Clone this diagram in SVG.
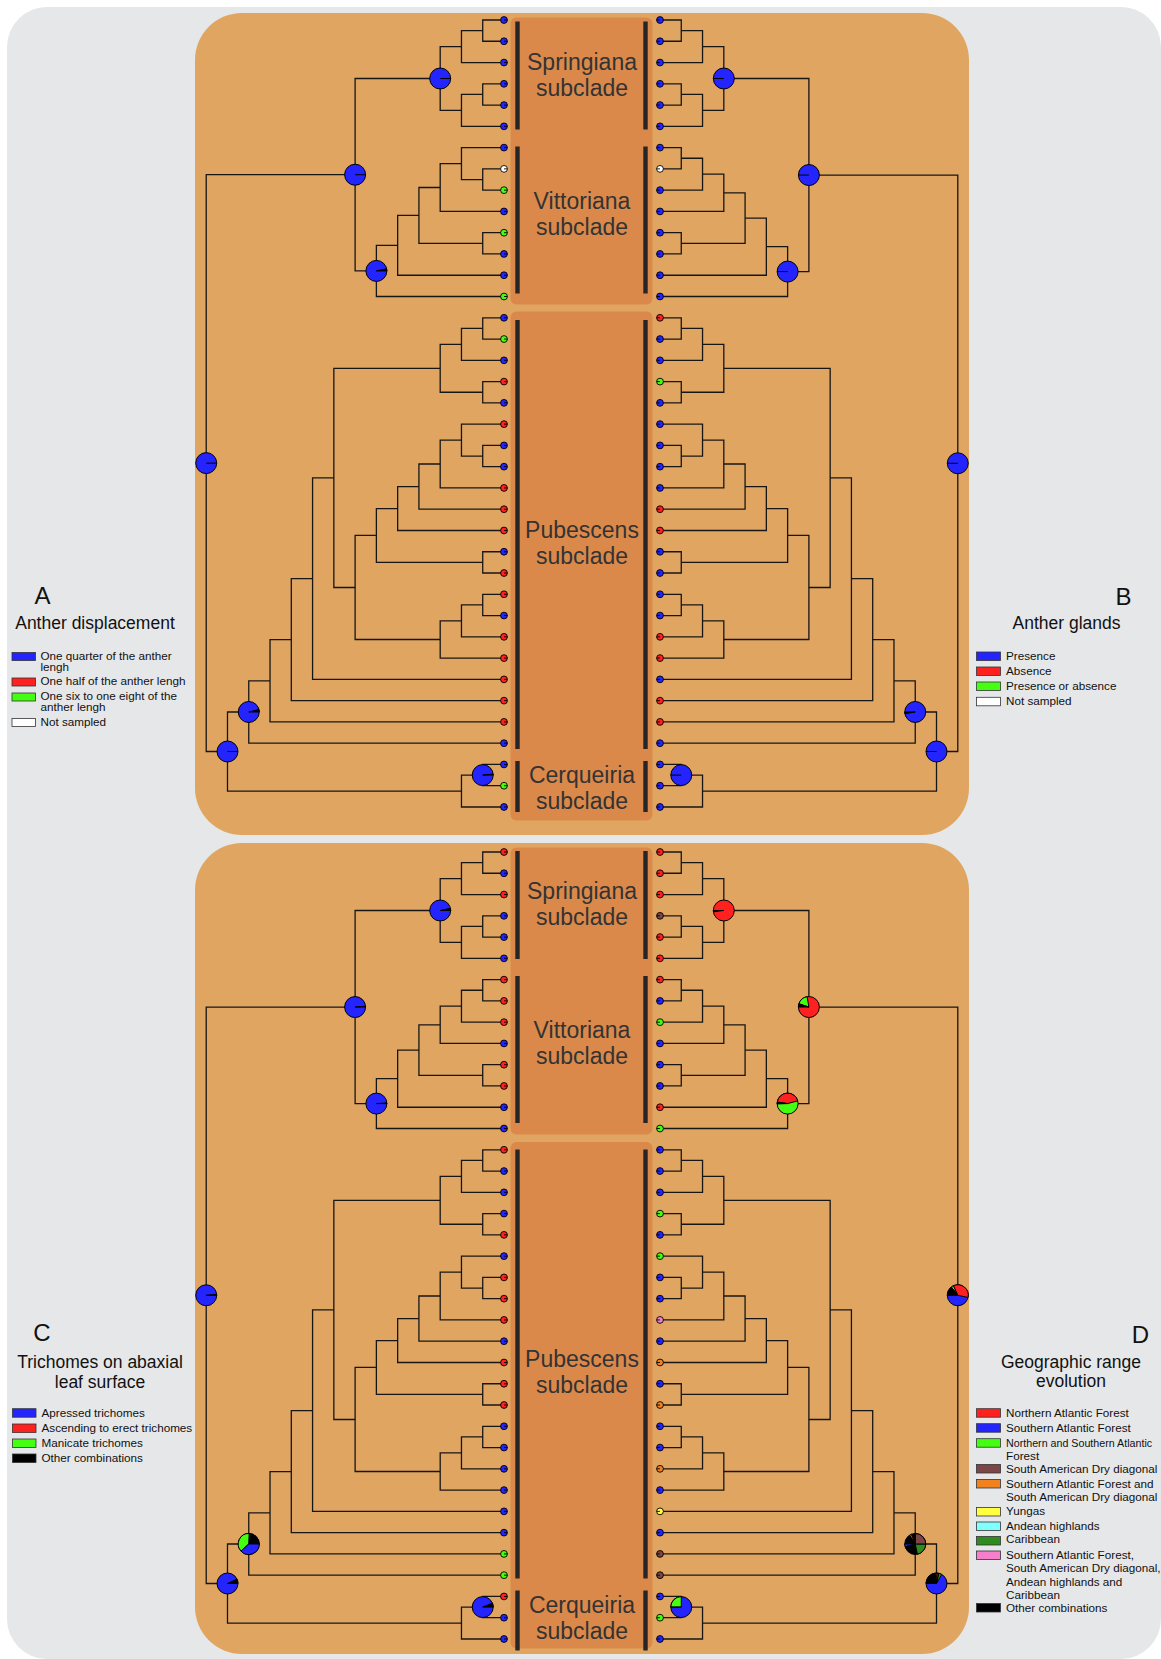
<svg xmlns="http://www.w3.org/2000/svg" xmlns:xlink="http://www.w3.org/1999/xlink" width="1161" height="1659" viewBox="0 0 1161 1659">
<style>
.panel{fill:#e0a661}
.box{fill:#db894b}
.bar{fill:#262626}
.lbl{font-family:"Liberation Sans",Arial,sans-serif;font-size:23px;fill:#333;text-anchor:middle}
.e path{fill:none;stroke:#161616;stroke-width:1.3}
.tip{stroke:#000;stroke-width:0.9}
.pie circle,.pie path{stroke:#000;stroke-width:1}
.b{fill:#2424ff}.r{fill:#ff2020}.g{fill:#44ff12}.w{fill:#fff}.k{fill:#000}.br{fill:#7d4646}.o{fill:#f28220}.y{fill:#ffff40}.c{fill:#80ffff}.dg{fill:#2f8a1f}.p{fill:#f57fcb}
.lt{font-family:"Liberation Sans",Arial,sans-serif;font-size:11.7px;fill:#111}
.lh{font-family:"Liberation Sans",Arial,sans-serif;font-size:17.5px;fill:#111;text-anchor:middle}
.ll{font-family:"Liberation Sans",Arial,sans-serif;font-size:24px;fill:#111;text-anchor:middle}
.sw{stroke:#333;stroke-width:0.8}
</style>
<defs>
<path id="tl" d="M0 0H3.4A3.4 3.4 0 1 1 -3.4 0A3.4 3.4 0 1 1 3.4 0"/>
<path id="tr" d="M0 0H-3.4A3.4 3.4 0 1 1 3.4 0A3.4 3.4 0 1 1 -3.4 0"/>
</defs>
<rect x="0" y="0" width="1161" height="1659" fill="#fff"/>
<rect x="7" y="7" width="1154" height="1652" rx="40" fill="#e6e7e9"/>
<rect class="panel" x="195" y="13" width="774" height="822" rx="47"/>
<rect class="panel" x="195" y="843" width="774" height="811" rx="47"/>

<!-- Legends -->
<g id="legend-A">
<text class="ll" x="42.5" y="604">A</text>
<text class="lh" x="95" y="629">Anther displacement</text>
<rect class="sw b" x="12" y="652.5" width="23.5" height="8"/>
<rect class="sw r" x="12" y="678" width="23.5" height="8"/>
<rect class="sw g" x="12" y="693" width="23.5" height="8"/>
<rect class="sw w" x="12" y="718.5" width="23.5" height="8"/>
<text class="lt" x="40.5" y="660">One quarter of the anther</text>
<text class="lt" x="40.5" y="670.7">lengh</text>
<text class="lt" x="40.5" y="685.3">One half of the anther lengh</text>
<text class="lt" x="40.5" y="700.3">One six to one eight of the</text>
<text class="lt" x="40.5" y="711">anther lengh</text>
<text class="lt" x="40.5" y="725.5">Not sampled</text>
</g>
<g id="legend-B">
<text class="ll" x="1123.5" y="605">B</text>
<text class="lh" x="1066.5" y="629.3">Anther glands</text>
<rect class="sw b" x="976.5" y="652" width="24" height="8.5"/>
<rect class="sw r" x="976.5" y="667" width="24" height="8.5"/>
<rect class="sw g" x="976.5" y="682" width="24" height="8.5"/>
<rect class="sw w" x="976.5" y="697.3" width="24" height="8.5"/>
<text class="lt" x="1006" y="660">Presence</text>
<text class="lt" x="1006" y="674.5">Absence</text>
<text class="lt" x="1006" y="689.5">Presence or absence</text>
<text class="lt" x="1006" y="705">Not sampled</text>
</g>
<g id="legend-C">
<text class="ll" x="42" y="1341">C</text>
<text class="lh" x="100" y="1368.3">Trichomes on abaxial</text>
<text class="lh" x="100" y="1387.7">leaf surface</text>
<rect class="sw b" x="12.5" y="1408.7" width="23.5" height="8.5"/>
<rect class="sw r" x="12.5" y="1424" width="23.5" height="8.5"/>
<rect class="sw g" x="12.5" y="1439" width="23.5" height="8.5"/>
<rect class="sw k" x="12.5" y="1454" width="23.5" height="8.5"/>
<text class="lt" x="41.5" y="1416.7">Apressed trichomes</text>
<text class="lt" x="41.5" y="1431.7">Ascending to erect trichomes</text>
<text class="lt" x="41.5" y="1446.7">Manicate trichomes</text>
<text class="lt" x="41.5" y="1461.7">Other combinations</text>
</g>
<g id="legend-D">
<text class="ll" x="1140.5" y="1342.7">D</text>
<text class="lh" x="1071" y="1368.3">Geographic range</text>
<text class="lh" x="1071" y="1387.3">evolution</text>
<rect class="sw r" x="976.5" y="1408.7" width="24" height="8.5"/>
<rect class="sw b" x="976.5" y="1423.7" width="24" height="8.5"/>
<rect class="sw g" x="976.5" y="1438.7" width="24" height="8.5"/>
<rect class="sw br" x="976.5" y="1464.5" width="24" height="8.5"/>
<rect class="sw o" x="976.5" y="1479.5" width="24" height="8.5"/>
<rect class="sw y" x="976.5" y="1507.5" width="24" height="8.5"/>
<rect class="sw c" x="976.5" y="1522" width="24" height="8.5"/>
<rect class="sw dg" x="976.5" y="1536.5" width="24" height="8.5"/>
<rect class="sw p" x="976.5" y="1551" width="24" height="8.5"/>
<rect class="sw k" x="976.5" y="1603.5" width="24" height="8.5"/>
<text class="lt" x="1006" y="1416.7">Northern Atlantic Forest</text>
<text class="lt" x="1006" y="1431.7">Southern Atlantic Forest</text>
<text class="lt" x="1006" y="1446.7" style="font-size:10.7px">Northern and Southern Atlantic</text>
<text class="lt" x="1006" y="1460">Forest</text>
<text class="lt" x="1006" y="1472.7">South American Dry diagonal</text>
<text class="lt" x="1006" y="1487.7">Southern Atlantic Forest and</text>
<text class="lt" x="1006" y="1500.7">South American Dry diagonal</text>
<text class="lt" x="1006" y="1515">Yungas</text>
<text class="lt" x="1006" y="1530">Andean highlands</text>
<text class="lt" x="1006" y="1543.3">Caribbean</text>
<text class="lt" x="1006" y="1559.3">Southern Atlantic Forest,</text>
<text class="lt" x="1006" y="1572.3">South American Dry diagonal,</text>
<text class="lt" x="1006" y="1586">Andean highlands and</text>
<text class="lt" x="1006" y="1599.3">Caribbean</text>
<text class="lt" x="1006" y="1611.7">Other combinations</text>
</g>

<!-- ================= TOP PANEL ================= -->
<g id="top-panel">
<rect class="box" x="510.5" y="17.5" width="142" height="287" rx="6"/>
<rect class="box" x="510.5" y="311.5" width="142" height="509" rx="6"/>
<rect class="bar" x="515.3" y="21.5" width="4.4" height="108"/>
<rect class="bar" x="643.3" y="21.5" width="4.4" height="108"/>
<rect class="bar" x="515.3" y="146.5" width="4.4" height="147"/>
<rect class="bar" x="643.3" y="146.5" width="4.4" height="147"/>
<rect class="bar" x="515.3" y="320" width="4.4" height="429"/>
<rect class="bar" x="643.3" y="320" width="4.4" height="429"/>
<rect class="bar" x="515.3" y="761" width="4.4" height="51"/>
<rect class="bar" x="643.3" y="761" width="4.4" height="51"/>
<text class="lbl" x="582" y="70">Springiana</text>
<text class="lbl" x="582" y="96">subclade</text>
<text class="lbl" x="582" y="208.5">Vittoriana</text>
<text class="lbl" x="582" y="235">subclade</text>
<text class="lbl" x="582" y="537.5">Pubescens</text>
<text class="lbl" x="582" y="563.5">subclade</text>
<text class="lbl" x="582" y="783">Cerqueiria</text>
<text class="lbl" x="582" y="809">subclade</text>

<g id="edges-A" class="e">
<path d="M504 20H482.73V41.27H504"/><path d="M482.73 30.64H461.46V62.54H504"/><path d="M504 83.81H482.73V105.08H504"/><path d="M482.73 94.45H461.46V126.35H504"/><path d="M461.46 46.59H440.19V110.4H461.46"/>
<path d="M504 168.89H482.73V190.16H504"/><path d="M504 147.62H461.46V179.53H482.73"/><path d="M461.46 163.57H440.19V211.43H504"/><path d="M504 232.7H482.73V253.97H504"/><path d="M440.19 187.5H418.92V243.34H482.73"/><path d="M418.92 215.42H397.65V275.24H504"/><path d="M397.65 245.33H376.38V296.51H504"/><path d="M440.19 78.49H355.11V270.92H376.38"/>
<path d="M504 317.78H482.73V339.05H504"/><path d="M482.73 328.42H461.46V360.32H504"/><path d="M504 381.59H482.73V402.86H504"/><path d="M461.46 344.37H440.19V392.23H482.73"/>
<path d="M504 445.4H482.73V466.67H504"/><path d="M504 424.13H461.46V456.04H482.73"/><path d="M461.46 440.08H440.19V487.94H504"/><path d="M440.19 464.01H418.92V509.21H504"/><path d="M418.92 486.61H397.65V530.48H504"/><path d="M504 551.75H482.73V573.02H504"/><path d="M397.65 508.55H376.38V562.39H482.73"/>
<path d="M504 594.29H482.73V615.56H504"/><path d="M482.73 604.93H461.46V636.83H504"/><path d="M461.46 620.88H440.19V658.1H504"/><path d="M376.38 535.47H355.11V639.49H440.19"/><path d="M440.19 368.3H333.84V587.48H355.11"/>
<path d="M333.84 477.89H312.57V679.37H504"/><path d="M312.57 578.63H291.3V700.64H504"/><path d="M291.3 639.64H270.03V721.91H504"/><path d="M270.03 680.78H248.76V743.18H504"/>
<path d="M504 764.45H482.73V785.72H504"/><path d="M482.73 775.09H461.46V806.99H504"/><path d="M248.76 711.98H227.49V791.04H461.46"/><path d="M355.11 174.71H206.22V751.51H227.49"/>
</g>
<g id="edges-B" class="e" transform="matrix(-1 0 0 1 1164 0)">
<path d="M504 20H482.73V41.27H504"/><path d="M482.73 30.64H461.46V62.54H504"/><path d="M504 83.81H482.73V105.08H504"/><path d="M482.73 94.45H461.46V126.35H504"/><path d="M461.46 46.59H440.19V110.4H461.46"/>
<path d="M504 147.62H482.73V168.89H504"/><path d="M482.73 158.26H461.46V190.16H504"/><path d="M461.46 174.21H440.19V211.43H504"/><path d="M504 232.7H482.73V253.97H504"/><path d="M440.19 192.82H418.92V243.34H482.73"/><path d="M418.92 218.08H397.65V275.24H504"/><path d="M397.65 246.66H376.38V296.51H504"/><path d="M440.19 78.49H355.11V271.59H376.38"/>
<path d="M504 317.78H482.73V339.05H504"/><path d="M482.73 328.42H461.46V360.32H504"/><path d="M504 381.59H482.73V402.86H504"/><path d="M461.46 344.37H440.19V392.23H482.73"/>
<path d="M504 445.4H482.73V466.67H504"/><path d="M504 424.13H461.46V456.04H482.73"/><path d="M461.46 440.08H440.19V487.94H504"/><path d="M440.19 464.01H418.92V509.21H504"/><path d="M418.92 486.61H397.65V530.48H504"/><path d="M504 551.75H482.73V573.02H504"/><path d="M397.65 508.55H376.38V562.39H482.73"/>
<path d="M504 594.29H482.73V615.56H504"/><path d="M482.73 604.93H461.46V636.83H504"/><path d="M461.46 620.88H440.19V658.1H504"/><path d="M376.38 535.47H355.11V639.49H440.19"/><path d="M440.19 368.3H333.84V587.48H355.11"/>
<path d="M333.84 477.89H312.57V679.37H504"/><path d="M312.57 578.63H291.3V700.64H504"/><path d="M291.3 639.64H270.03V721.91H504"/><path d="M270.03 680.78H248.76V743.18H504"/>
<path d="M504 764.45H482.73V785.72H504"/><path d="M482.73 775.09H461.46V806.99H504"/><path d="M248.76 711.98H227.49V791.04H461.46"/><path d="M355.11 175.04H206.22V751.51H227.49"/>
</g>

<g id="tips-A">
<use id="A-t0" href="#tl" x="504" y="20" class="tip b"/><use id="A-t1" href="#tl" x="504" y="41.27" class="tip b"/><use id="A-t2" href="#tl" x="504" y="62.54" class="tip b"/><use id="A-t3" href="#tl" x="504" y="83.81" class="tip b"/><use id="A-t4" href="#tl" x="504" y="105.08" class="tip b"/><use id="A-t5" href="#tl" x="504" y="126.35" class="tip b"/>
<use id="A-t6" href="#tl" x="504" y="147.62" class="tip b"/><use id="A-t7" href="#tl" x="504" y="168.89" class="tip w"/><use id="A-t8" href="#tl" x="504" y="190.16" class="tip g"/><use id="A-t9" href="#tl" x="504" y="211.43" class="tip b"/><use id="A-t10" href="#tl" x="504" y="232.7" class="tip g"/><use id="A-t11" href="#tl" x="504" y="253.97" class="tip b"/><use id="A-t12" href="#tl" x="504" y="275.24" class="tip b"/><use id="A-t13" href="#tl" x="504" y="296.51" class="tip g"/>
<use id="A-t14" href="#tl" x="504" y="317.78" class="tip b"/><use id="A-t15" href="#tl" x="504" y="339.05" class="tip g"/><use id="A-t16" href="#tl" x="504" y="360.32" class="tip b"/><use id="A-t17" href="#tl" x="504" y="381.59" class="tip r"/><use id="A-t18" href="#tl" x="504" y="402.86" class="tip b"/><use id="A-t19" href="#tl" x="504" y="424.13" class="tip r"/><use id="A-t20" href="#tl" x="504" y="445.4" class="tip b"/><use id="A-t21" href="#tl" x="504" y="466.67" class="tip b"/><use id="A-t22" href="#tl" x="504" y="487.94" class="tip r"/><use id="A-t23" href="#tl" x="504" y="509.21" class="tip r"/><use id="A-t24" href="#tl" x="504" y="530.48" class="tip r"/><use id="A-t25" href="#tl" x="504" y="551.75" class="tip b"/><use id="A-t26" href="#tl" x="504" y="573.02" class="tip r"/><use id="A-t27" href="#tl" x="504" y="594.29" class="tip r"/><use id="A-t28" href="#tl" x="504" y="615.56" class="tip b"/><use id="A-t29" href="#tl" x="504" y="636.83" class="tip r"/><use id="A-t30" href="#tl" x="504" y="658.1" class="tip r"/><use id="A-t31" href="#tl" x="504" y="679.37" class="tip r"/><use id="A-t32" href="#tl" x="504" y="700.64" class="tip r"/><use id="A-t33" href="#tl" x="504" y="721.91" class="tip r"/><use id="A-t34" href="#tl" x="504" y="743.18" class="tip b"/>
<use id="A-t35" href="#tl" x="504" y="764.45" class="tip b"/><use id="A-t36" href="#tl" x="504" y="785.72" class="tip g"/><use id="A-t37" href="#tl" x="504" y="806.99" class="tip b"/>
</g>
<g id="tips-B">
<use id="B-t0" href="#tr" x="660" y="20" class="tip b"/><use id="B-t1" href="#tr" x="660" y="41.27" class="tip b"/><use id="B-t2" href="#tr" x="660" y="62.54" class="tip b"/><use id="B-t3" href="#tr" x="660" y="83.81" class="tip b"/><use id="B-t4" href="#tr" x="660" y="105.08" class="tip b"/><use id="B-t5" href="#tr" x="660" y="126.35" class="tip b"/>
<use id="B-t6" href="#tr" x="660" y="147.62" class="tip b"/><use id="B-t7" href="#tr" x="660" y="168.89" class="tip w"/><use id="B-t8" href="#tr" x="660" y="190.16" class="tip b"/><use id="B-t9" href="#tr" x="660" y="211.43" class="tip b"/><use id="B-t10" href="#tr" x="660" y="232.7" class="tip b"/><use id="B-t11" href="#tr" x="660" y="253.97" class="tip b"/><use id="B-t12" href="#tr" x="660" y="275.24" class="tip b"/><use id="B-t13" href="#tr" x="660" y="296.51" class="tip b"/>
<use id="B-t14" href="#tr" x="660" y="317.78" class="tip r"/><use id="B-t15" href="#tr" x="660" y="339.05" class="tip b"/><use id="B-t16" href="#tr" x="660" y="360.32" class="tip b"/><use id="B-t17" href="#tr" x="660" y="381.59" class="tip g"/><use id="B-t18" href="#tr" x="660" y="402.86" class="tip b"/><use id="B-t19" href="#tr" x="660" y="424.13" class="tip b"/><use id="B-t20" href="#tr" x="660" y="445.4" class="tip b"/><use id="B-t21" href="#tr" x="660" y="466.67" class="tip b"/><use id="B-t22" href="#tr" x="660" y="487.94" class="tip b"/><use id="B-t23" href="#tr" x="660" y="509.21" class="tip r"/><use id="B-t24" href="#tr" x="660" y="530.48" class="tip r"/><use id="B-t25" href="#tr" x="660" y="551.75" class="tip b"/><use id="B-t26" href="#tr" x="660" y="573.02" class="tip b"/><use id="B-t27" href="#tr" x="660" y="594.29" class="tip b"/><use id="B-t28" href="#tr" x="660" y="615.56" class="tip b"/><use id="B-t29" href="#tr" x="660" y="636.83" class="tip r"/><use id="B-t30" href="#tr" x="660" y="658.1" class="tip r"/><use id="B-t31" href="#tr" x="660" y="679.37" class="tip b"/><use id="B-t32" href="#tr" x="660" y="700.64" class="tip r"/><use id="B-t33" href="#tr" x="660" y="721.91" class="tip r"/><use id="B-t34" href="#tr" x="660" y="743.18" class="tip b"/>
<use id="B-t35" href="#tr" x="660" y="764.45" class="tip b"/><use id="B-t36" href="#tr" x="660" y="785.72" class="tip b"/><use id="B-t37" href="#tr" x="660" y="806.99" class="tip b"/>
</g>

<g id="A-n-spring" class="pie" transform="translate(440.19 78.49)"><circle r="10.5" class="b"/><path d="M0 0H10.5"/></g>
<g id="A-n-sv" class="pie" transform="translate(355.11 174.71)"><circle r="10.5" class="b"/><path d="M0 0H10.5"/></g>
<g id="A-n-vitt" class="pie" transform="translate(376.38 270.92)"><circle r="10.5" class="b"/><path class="k" d="M0 0H10.5A10.5 10.5 0 0 0 10.27 -2.18Z"/></g>
<g id="A-n-root" class="pie" transform="translate(206.22 463.11)"><circle r="10.5" class="b"/><path d="M0 0H10.5"/></g>
<g id="A-n-12" class="pie" transform="translate(248.76 711.98)"><circle r="10.5" class="b"/><path class="k" d="M0 0H10.5A10.5 10.5 0 0 0 10.19 -2.54Z"/></g>
<g id="A-n-13" class="pie" transform="translate(227.49 751.51)"><circle r="10.5" class="b"/><path d="M0 0H10.5"/></g>
<g id="A-n-cerq" class="pie" transform="translate(482.73 775.09)"><circle r="10.5" class="b"/><path class="k" d="M0 0H10.5A10.5 10.5 0 0 0 10.44 -1.1Z"/></g>

<g id="B-n-spring" class="pie" transform="translate(723.81 78.49)"><circle r="10.5" class="b"/><path d="M0 0H-10.5"/></g>
<g id="B-n-sv" class="pie" transform="translate(808.89 175.04)"><circle r="10.5" class="b"/><path d="M0 0H-10.5"/></g>
<g id="B-n-vitt" class="pie" transform="translate(787.62 271.59)"><circle r="10.5" class="b"/><path d="M0 0H-10.5"/></g>
<g id="B-n-root" class="pie" transform="translate(957.78 463.28)"><circle r="10.5" class="b"/><path d="M0 0H-10.5"/></g>
<g id="B-n-12" class="pie" transform="translate(915.24 711.98)"><circle r="10.5" class="b"/><path class="k" d="M0 0H-10.5A10.5 10.5 0 0 0 -10.34 1.82Z"/></g>
<g id="B-n-13" class="pie" transform="translate(936.51 751.51)"><circle r="10.5" class="b"/><path d="M0 0H-10.5"/></g>
<g id="B-n-cerq" class="pie" transform="translate(681.27 775.09)"><circle r="10.5" class="b"/><path d="M0 0H-10.5"/></g>
</g>

<!-- ================= BOTTOM PANEL ================= -->
<g id="bottom-panel" transform="translate(0 832)">
<rect class="box" x="510.5" y="15.5" width="142" height="287" rx="6"/>
<rect class="box" x="510.5" y="310" width="142" height="506.5" rx="6"/>
<rect class="bar" x="515.3" y="19" width="4.4" height="108"/>
<rect class="bar" x="643.3" y="19" width="4.4" height="108"/>
<rect class="bar" x="515.3" y="144" width="4.4" height="147"/>
<rect class="bar" x="643.3" y="144" width="4.4" height="147"/>
<rect class="bar" x="515.3" y="317.5" width="4.4" height="429"/>
<rect class="bar" x="643.3" y="317.5" width="4.4" height="429"/>
<rect class="bar" x="515.3" y="758.5" width="4.4" height="60"/>
<rect class="bar" x="643.3" y="758.5" width="4.4" height="60"/>
<text class="lbl" x="582" y="67">Springiana</text>
<text class="lbl" x="582" y="93">subclade</text>
<text class="lbl" x="582" y="205.5">Vittoriana</text>
<text class="lbl" x="582" y="232">subclade</text>
<text class="lbl" x="582" y="535">Pubescens</text>
<text class="lbl" x="582" y="561">subclade</text>
<text class="lbl" x="582" y="781">Cerqueiria</text>
<text class="lbl" x="582" y="807">subclade</text>

<g id="edges-C" class="e">
<path d="M504 20H482.73V41.27H504"/><path d="M482.73 30.64H461.46V62.54H504"/><path d="M504 83.81H482.73V105.08H504"/><path d="M482.73 94.45H461.46V126.35H504"/><path d="M461.46 46.59H440.19V110.4H461.46"/>
<path d="M504 147.62H482.73V168.89H504"/><path d="M482.73 158.26H461.46V190.16H504"/><path d="M461.46 174.21H440.19V211.43H504"/><path d="M504 232.7H482.73V253.97H504"/><path d="M440.19 192.82H418.92V243.34H482.73"/><path d="M418.92 218.08H397.65V275.24H504"/><path d="M397.65 246.66H376.38V296.51H504"/><path d="M440.19 78.49H355.11V271.59H376.38"/>
<path d="M504 317.78H482.73V339.05H504"/><path d="M482.73 328.42H461.46V360.32H504"/><path d="M504 381.59H482.73V402.86H504"/><path d="M461.46 344.37H440.19V392.23H482.73"/>
<path d="M504 445.4H482.73V466.67H504"/><path d="M504 424.13H461.46V456.04H482.73"/><path d="M461.46 440.08H440.19V487.94H504"/><path d="M440.19 464.01H418.92V509.21H504"/><path d="M418.92 486.61H397.65V530.48H504"/><path d="M504 551.75H482.73V573.02H504"/><path d="M397.65 508.55H376.38V562.39H482.73"/>
<path d="M504 594.29H482.73V615.56H504"/><path d="M482.73 604.93H461.46V636.83H504"/><path d="M461.46 620.88H440.19V658.1H504"/><path d="M376.38 535.47H355.11V639.49H440.19"/><path d="M440.19 368.3H333.84V587.48H355.11"/>
<path d="M333.84 477.89H312.57V679.37H504"/><path d="M312.57 578.63H291.3V700.64H504"/><path d="M291.3 639.64H270.03V721.91H504"/><path d="M270.03 680.78H248.76V743.18H504"/>
<path d="M504 764.45H482.73V785.72H504"/><path d="M482.73 775.09H461.46V806.99H504"/><path d="M248.76 711.98H227.49V791.04H461.46"/><path d="M355.11 175.04H206.22V751.51H227.49"/>
</g>
<g id="edges-D" class="e" transform="matrix(-1 0 0 1 1164 0)">
<path d="M504 20H482.73V41.27H504"/><path d="M482.73 30.64H461.46V62.54H504"/><path d="M504 83.81H482.73V105.08H504"/><path d="M482.73 94.45H461.46V126.35H504"/><path d="M461.46 46.59H440.19V110.4H461.46"/>
<path d="M504 147.62H482.73V168.89H504"/><path d="M482.73 158.26H461.46V190.16H504"/><path d="M461.46 174.21H440.19V211.43H504"/><path d="M504 232.7H482.73V253.97H504"/><path d="M440.19 192.82H418.92V243.34H482.73"/><path d="M418.92 218.08H397.65V275.24H504"/><path d="M397.65 246.66H376.38V296.51H504"/><path d="M440.19 78.49H355.11V271.59H376.38"/>
<path d="M504 317.78H482.73V339.05H504"/><path d="M482.73 328.42H461.46V360.32H504"/><path d="M504 381.59H482.73V402.86H504"/><path d="M461.46 344.37H440.19V392.23H482.73"/>
<path d="M504 445.4H482.73V466.67H504"/><path d="M504 424.13H461.46V456.04H482.73"/><path d="M461.46 440.08H440.19V487.94H504"/><path d="M440.19 464.01H418.92V509.21H504"/><path d="M418.92 486.61H397.65V530.48H504"/><path d="M504 551.75H482.73V573.02H504"/><path d="M397.65 508.55H376.38V562.39H482.73"/>
<path d="M504 594.29H482.73V615.56H504"/><path d="M482.73 604.93H461.46V636.83H504"/><path d="M461.46 620.88H440.19V658.1H504"/><path d="M376.38 535.47H355.11V639.49H440.19"/><path d="M440.19 368.3H333.84V587.48H355.11"/>
<path d="M333.84 477.89H312.57V679.37H504"/><path d="M312.57 578.63H291.3V700.64H504"/><path d="M291.3 639.64H270.03V721.91H504"/><path d="M270.03 680.78H248.76V743.18H504"/>
<path d="M504 764.45H482.73V785.72H504"/><path d="M482.73 775.09H461.46V806.99H504"/><path d="M248.76 711.98H227.49V791.04H461.46"/><path d="M355.11 175.04H206.22V751.51H227.49"/>
</g>

<g id="tips-C">
<use id="C-t0" href="#tl" x="504" y="20" class="tip r"/><use id="C-t1" href="#tl" x="504" y="41.27" class="tip b"/><use id="C-t2" href="#tl" x="504" y="62.54" class="tip r"/><use id="C-t3" href="#tl" x="504" y="83.81" class="tip b"/><use id="C-t4" href="#tl" x="504" y="105.08" class="tip b"/><use id="C-t5" href="#tl" x="504" y="126.35" class="tip b"/>
<use id="C-t6" href="#tl" x="504" y="147.62" class="tip r"/><use id="C-t7" href="#tl" x="504" y="168.89" class="tip r"/><use id="C-t8" href="#tl" x="504" y="190.16" class="tip r"/><use id="C-t9" href="#tl" x="504" y="211.43" class="tip b"/><use id="C-t10" href="#tl" x="504" y="232.7" class="tip r"/><use id="C-t11" href="#tl" x="504" y="253.97" class="tip r"/><use id="C-t12" href="#tl" x="504" y="275.24" class="tip b"/><use id="C-t13" href="#tl" x="504" y="296.51" class="tip b"/>
<use id="C-t14" href="#tl" x="504" y="317.78" class="tip r"/><use id="C-t15" href="#tl" x="504" y="339.05" class="tip b"/><use id="C-t16" href="#tl" x="504" y="360.32" class="tip b"/><use id="C-t17" href="#tl" x="504" y="381.59" class="tip b"/><use id="C-t18" href="#tl" x="504" y="402.86" class="tip r"/><use id="C-t19" href="#tl" x="504" y="424.13" class="tip b"/><use id="C-t20" href="#tl" x="504" y="445.4" class="tip r"/><use id="C-t21" href="#tl" x="504" y="466.67" class="tip r"/><use id="C-t22" href="#tl" x="504" y="487.94" class="tip r"/><use id="C-t23" href="#tl" x="504" y="509.21" class="tip b"/><use id="C-t24" href="#tl" x="504" y="530.48" class="tip r"/><use id="C-t25" href="#tl" x="504" y="551.75" class="tip r"/><use id="C-t26" href="#tl" x="504" y="573.02" class="tip r"/><use id="C-t27" href="#tl" x="504" y="594.29" class="tip b"/><use id="C-t28" href="#tl" x="504" y="615.56" class="tip b"/><use id="C-t29" href="#tl" x="504" y="636.83" class="tip b"/><use id="C-t30" href="#tl" x="504" y="658.1" class="tip b"/><use id="C-t31" href="#tl" x="504" y="679.37" class="tip b"/><use id="C-t32" href="#tl" x="504" y="700.64" class="tip b"/><use id="C-t33" href="#tl" x="504" y="721.91" class="tip g"/><use id="C-t34" href="#tl" x="504" y="743.18" class="tip g"/>
<use id="C-t35" href="#tl" x="504" y="764.45" class="tip r"/><use id="C-t36" href="#tl" x="504" y="785.72" class="tip b"/><use id="C-t37" href="#tl" x="504" y="806.99" class="tip b"/>
</g>
<g id="tips-D">
<use id="D-t0" href="#tr" x="660" y="20" class="tip r"/><use id="D-t1" href="#tr" x="660" y="41.27" class="tip r"/><use id="D-t2" href="#tr" x="660" y="62.54" class="tip r"/><use id="D-t3" href="#tr" x="660" y="83.81" class="tip br"/><use id="D-t4" href="#tr" x="660" y="105.08" class="tip r"/><use id="D-t5" href="#tr" x="660" y="126.35" class="tip r"/>
<use id="D-t6" href="#tr" x="660" y="147.62" class="tip r"/><use id="D-t7" href="#tr" x="660" y="168.89" class="tip b"/><use id="D-t8" href="#tr" x="660" y="190.16" class="tip g"/><use id="D-t9" href="#tr" x="660" y="211.43" class="tip b"/><use id="D-t10" href="#tr" x="660" y="232.7" class="tip b"/><use id="D-t11" href="#tr" x="660" y="253.97" class="tip b"/><use id="D-t12" href="#tr" x="660" y="275.24" class="tip r"/><use id="D-t13" href="#tr" x="660" y="296.51" class="tip g"/>
<use id="D-t14" href="#tr" x="660" y="317.78" class="tip b"/><use id="D-t15" href="#tr" x="660" y="339.05" class="tip b"/><use id="D-t16" href="#tr" x="660" y="360.32" class="tip b"/><use id="D-t17" href="#tr" x="660" y="381.59" class="tip g"/><use id="D-t18" href="#tr" x="660" y="402.86" class="tip b"/><use id="D-t19" href="#tr" x="660" y="424.13" class="tip g"/><use id="D-t20" href="#tr" x="660" y="445.4" class="tip b"/><use id="D-t21" href="#tr" x="660" y="466.67" class="tip b"/><use id="D-t22" href="#tr" x="660" y="487.94" class="tip p"/><use id="D-t23" href="#tr" x="660" y="509.21" class="tip b"/><use id="D-t24" href="#tr" x="660" y="530.48" class="tip o"/><use id="D-t25" href="#tr" x="660" y="551.75" class="tip b"/><use id="D-t26" href="#tr" x="660" y="573.02" class="tip o"/><use id="D-t27" href="#tr" x="660" y="594.29" class="tip b"/><use id="D-t28" href="#tr" x="660" y="615.56" class="tip b"/><use id="D-t29" href="#tr" x="660" y="636.83" class="tip o"/><use id="D-t30" href="#tr" x="660" y="658.1" class="tip b"/><use id="D-t31" href="#tr" x="660" y="679.37" class="tip y"/><use id="D-t32" href="#tr" x="660" y="700.64" class="tip b"/><use id="D-t33" href="#tr" x="660" y="721.91" class="tip br"/><use id="D-t34" href="#tr" x="660" y="743.18" class="tip br"/>
<use id="D-t35" href="#tr" x="660" y="764.45" class="tip b"/><use id="D-t36" href="#tr" x="660" y="785.72" class="tip g"/><use id="D-t37" href="#tr" x="660" y="806.99" class="tip b"/>
</g>

<g id="C-n-spring" class="pie" transform="translate(440.19 78.49)"><circle r="10.5" class="b"/><path class="k" d="M0 0H10.5A10.5 10.5 0 0 0 10.27 -2.18Z"/></g>
<g id="C-n-sv" class="pie" transform="translate(355.11 175.04)"><circle r="10.5" class="b"/><path class="k" d="M0 0H10.5A10.5 10.5 0 0 0 10.47 -0.73Z"/></g>
<g id="C-n-vitt" class="pie" transform="translate(376.38 271.59)"><circle r="10.5" class="b"/><path class="k" d="M0 0H10.5A10.5 10.5 0 0 0 10.47 -0.73Z"/></g>
<g id="C-n-root" class="pie" transform="translate(206.22 463.28)"><circle r="10.5" class="b"/><path class="k" d="M0 0H10.5A10.5 10.5 0 0 0 10.46 -0.92Z"/></g>
<g id="C-n-12" class="pie" transform="translate(248.76 711.98)"><circle r="10.5" class="b"/><path class="k" d="M0 0H10.5A10.5 10.5 0 0 0 0.37 -10.49Z"/><path class="g" d="M0 0L0.37 -10.49A10.5 10.5 0 0 0 -7.8 7.03Z"/><path class="b" d="M0 0L-7.8 7.03A10.5 10.5 0 0 0 10.5 0Z"/></g>
<g id="C-n-13" class="pie" transform="translate(227.49 751.51)"><circle r="10.5" class="b"/><path class="k" d="M0 0H10.5A10.5 10.5 0 0 0 9.52 -4.44Z"/></g>
<g id="C-n-cerq" class="pie" transform="translate(482.73 775.09)"><circle r="10.5" class="b"/><path class="k" d="M0 0H10.5A10.5 10.5 0 0 0 9.74 -3.93Z"/></g>

<g id="D-n-spring" class="pie" transform="translate(723.81 78.49)"><circle r="10.5" class="r"/><path class="k" d="M0 0H-10.5A10.5 10.5 0 0 0 -10.42 1.28Z"/></g>
<g id="D-n-sv" class="pie" transform="translate(808.89 175.04)"><circle r="10.5" class="r"/><path class="g" d="M0 0L-1.82 -10.34A10.5 10.5 0 0 0 -9.99 -3.24Z"/><path class="k" d="M0 0L-9.99 -3.24A10.5 10.5 0 0 0 -10.5 0Z"/></g>
<g id="D-n-vitt" class="pie" transform="translate(787.62 271.59)"><circle r="10.5" class="g"/><path class="r" d="M0 0L10.14 -2.72A10.5 10.5 0 0 0 -10.4 -1.46Z"/><path class="k" d="M0 0L-10.4 -1.46A10.5 10.5 0 0 0 -10.49 0.37Z"/></g>
<g id="D-n-root" class="pie" transform="translate(957.78 463.28)"><circle r="10.5" class="b"/><path class="r" d="M0 0L10.27 2.18A10.5 10.5 0 0 0 -4.44 -9.52Z"/><path class="g" d="M0 0L-4.44 -9.52A10.5 10.5 0 0 0 -6.46 -8.27Z"/><path class="k" d="M0 0L-6.46 -8.27A10.5 10.5 0 0 0 -10.5 0Z"/></g>
<g id="D-n-12" class="pie" transform="translate(915.24 711.98)"><circle r="10.5" class="k"/><path class="b" d="M0 0H-10.5A10.5 10.5 0 0 0 -10.14 2.72Z"/><path class="dg" d="M0 0L2.18 10.27A10.5 10.5 0 0 0 10.5 0Z"/><path class="br" d="M0 0H10.5A10.5 10.5 0 0 0 0.37 -10.49Z"/><path class="o" d="M0 0L-3.93 -9.74A10.5 10.5 0 0 0 -5.56 -8.9Z"/></g>
<g id="D-n-13" class="pie" transform="translate(936.51 751.51)"><circle r="10.5" class="b"/><path class="dg" d="M0 0L5.25 -9.09A10.5 10.5 0 0 0 2.18 -10.27Z"/><path class="br" d="M0 0L2.18 -10.27A10.5 10.5 0 0 0 0.37 -10.49Z"/><path class="r" d="M0 0L0.37 -10.49A10.5 10.5 0 0 0 -1.46 -10.4Z"/><path class="k" d="M0 0L-1.46 -10.4A10.5 10.5 0 0 0 -10.5 0Z"/></g>
<g id="D-n-cerq" class="pie" transform="translate(681.27 775.09)"><circle r="10.5" class="b"/><path class="g" d="M0 0L0 -10.5A10.5 10.5 0 0 0 -10.5 0Z"/><path d="M0 0H-10.5"/></g>
</g>
</svg>
